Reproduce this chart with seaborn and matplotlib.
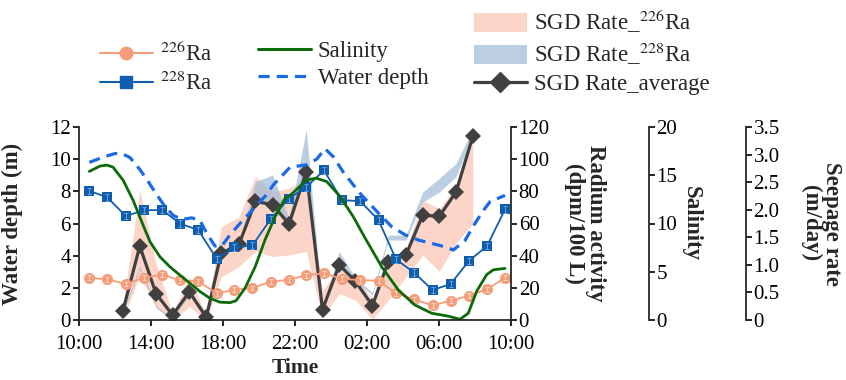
import matplotlib
matplotlib.use("Agg")
import matplotlib.pyplot as plt
from matplotlib.lines import Line2D
from matplotlib.patches import Patch
import seaborn as sns

# ---------------- data ----------------
# radium sampling times (hours after 10:00)
ra_hours = [0.6, 1.6, 2.63, 3.63, 4.65, 5.63, 6.65, 7.67, 8.65, 9.65, 10.67, 11.66,
            12.62, 13.62, 14.62, 15.63, 16.65, 17.62, 18.63, 19.65, 20.65, 21.67, 22.67, 23.67]
ra226 = [26.3, 25.3, 22.4, 26.3, 28.1, 24.8, 24.0, 16.6, 18.8, 19.9, 23.9, 25.0,
         27.8, 29.0, 25.6, 24.8, 24.4, 16.6, 12.8, 9.1, 12.0, 15.1, 19.1, 26.3]
ra228 = [80.3, 76.2, 64.6, 68.3, 68.3, 60.0, 55.9, 38.0, 45.1, 46.4, 62.8, 75.5,
         82.5, 93.0, 74.5, 73.9, 62.1, 37.7, 29.4, 18.6, 22.4, 36.8, 46.0, 68.8]
ra226_err = [1.5, 1.5, 1.5, 1.5, 1.5, 1.5, 1.5, 1.5, 1.5, 1.5, 1.5, 1.5,
             1.5, 1.5, 1.5, 1.5, 1.5, 1.5, 1.5, 1.5, 1.5, 1.5, 1.5, 1.5]
ra228_err = [2.0, 2.0, 2.0, 2.0, 2.0, 2.0, 2.0, 2.0, 2.0, 2.0, 2.0, 2.0,
             2.0, 2.0, 2.0, 2.0, 2.0, 2.0, 2.0, 2.0, 2.0, 2.0, 2.0, 2.0]

# salinity record
sal_hours = [0.6, 1.19, 1.58, 1.91, 2.47, 3.02, 3.58, 3.97, 4.52, 5.08, 5.63, 6.19,
             6.74, 7.3, 7.85, 8.41, 8.74, 9.24, 9.8, 10.35, 10.91, 11.46, 11.74, 12.66,
             13.18, 13.77, 14.51, 15.25, 15.9, 16.83, 17.75, 18.67, 19.6, 20.52, 21.17,
             21.63, 22.1, 22.65, 23.02, 23.67]
salinity = [15.4, 15.95, 16.05, 15.85, 14.5, 12.45, 9.85, 8.1, 6.55, 5.5, 4.65, 3.8,
            2.95, 2.25, 1.85, 1.8, 2.0, 3.3, 5.5, 8.3, 10.7, 12.6, 12.9, 14.5,
            14.7, 14.35, 12.8, 10.7, 8.5, 5.5, 3.1, 1.55, 0.7, 0.4, 0.07,
            0.7, 3.0, 4.7, 5.2, 5.35]

# water depth record
depth_hours = [0.6, 1.19, 1.58, 2.03, 2.4, 2.86, 3.41, 3.87, 4.34, 4.8, 5.26, 5.73,
               6.28, 6.74, 7.11, 7.57, 7.95, 8.41, 8.96, 9.7, 10.44, 10.81, 11.74, 12.66,
               13.22, 13.68, 14.14, 14.69, 15.25, 15.72, 16.64, 17.38, 18.12, 18.86, 19.6,
               20.34, 20.8, 21.45, 22.0, 22.46, 22.83, 23.67]
depth = [9.8, 10.05, 10.2, 10.35, 10.35, 10.1, 9.35, 8.6, 7.8, 7.05, 6.5, 6.25,
         6.35, 6.2, 5.4, 4.6, 4.6, 5.3, 6.0, 6.9, 7.8, 8.4, 9.5, 9.65,
         10.0, 10.65, 10.15, 9.2, 8.4, 7.75, 6.65, 5.8, 5.3, 4.97, 4.76,
         4.55, 4.35, 4.95, 6.0, 6.8, 7.35, 7.75]

# SGD seepage rates (m/day)
sgd_hours = [2.46, 3.4, 4.3, 5.22, 6.15, 7.09, 7.92, 8.9, 9.82, 10.77, 11.68,
             12.64, 13.54, 14.47, 15.37, 16.31, 17.19, 18.17, 19.1, 20.02, 20.95, 21.88]
sgd226_low = [0.03, 0.79, 0.24, 0.0, 0.24, 0.0, 0.78, 0.97, 1.24, 1.15, 1.18,
              1.24, 0.06, 0.48, 0.36, 0.01, 0.36, 0.78, 1.18, 0.88, 1.39, 1.75]
sgd226_high = [0.26, 2.35, 1.02, 0.12, 0.78, 0.09, 1.69, 1.87, 2.6, 2.32, 2.39,
               2.57, 0.53, 0.97, 0.78, 0.38, 0.97, 1.27, 2.17, 2.02, 2.42, 3.38]
sgd228_low = [0.12, 0.93, 0.22, 0.0, 0.47, 0.0, 1.17, 1.34, 2.19, 2.11, 1.72,
              2.69, 0.16, 1.03, 0.7, 0.45, 1.45, 1.45, 2.14, 2.32, 2.6, 3.35]
sgd228_high = [0.16, 0.99, 0.26, 0.03, 0.51, 0.03, 1.22, 1.4, 2.51, 2.63, 1.84,
               3.46, 0.2, 1.24, 0.76, 0.5, 1.54, 1.54, 2.32, 2.57, 2.84, 3.47]
sgd_avg = [0.16, 1.34, 0.48, 0.09, 0.51, 0.05, 1.21, 1.37, 2.15, 2.09, 1.74,
           2.69, 0.19, 1.0, 0.7, 0.26, 1.06, 1.18, 1.9, 1.88, 2.32, 3.33]

time_ticks = [0, 4, 8, 12, 16, 20, 24]
time_labels = ["10:00", "14:00", "18:00", "22:00", "02:00", "06:00", "10:00"]

# ---------------- style ----------------
sns.set_theme(style="ticks")
plt.rcParams["font.family"] = ["Liberation Serif", "DejaVu Serif"]
plt.rcParams["mathtext.fontset"] = "stix"
plt.rcParams["axes.linewidth"] = 1.3

FS = 15
FS_LAB = 16.5
FS_LEG = 16.5
C226 = "#F59C78"
C228 = "#0F5DAE"
CDEPTH = "#1A6AE6"
CSAL = "#0B6B0B"
CAVG = "#404040"
CPINK = "#FBB9A4"
CBLUE = "#9FBAD6"

fig = plt.figure(figsize=(8.46, 3.8), dpi=100)
ax = fig.add_axes([78.5 / 846, 60 / 380, 432.5 / 846, 193 / 380])
ax_ra = ax.twinx()
ax_sal = ax.twinx()
ax_sgd = ax.twinx()

ax_sal.spines["right"].set_position(("axes", 1.319))
ax_sgd.spines["right"].set_position(("axes", 1.543))

# stacking: seepage bands lowest, water depth on top
ax_sgd.set_zorder(1)
ax_ra.set_zorder(2)
ax_sal.set_zorder(3)
ax.set_zorder(4)
ax.patch.set_visible(False)
for a in (ax_ra, ax_sal, ax_sgd):
    a.patch.set_visible(False)

# SGD bands and average
ax_sgd.fill_between(sgd_hours, sgd226_low, sgd226_high, color=CPINK, alpha=0.6, linewidth=0)
ax_sgd.fill_between(sgd_hours, sgd228_low, sgd228_high, color=CBLUE, alpha=0.7, linewidth=0)
sns.lineplot(x=sgd_hours, y=sgd_avg, ax=ax_sgd, color=CAVG, linewidth=2.3,
             marker="D", markersize=8, markeredgecolor=CAVG, markeredgewidth=0,
             legend=False)

# radium activities
sns.lineplot(x=ra_hours, y=ra226, ax=ax_ra, color=C226, linewidth=1.3,
             marker="o", markersize=8, markeredgecolor=C226, markeredgewidth=0,
             legend=False)
ax_ra.errorbar(ra_hours, ra226, yerr=ra226_err, fmt="none", ecolor="#FFD9C8",
               elinewidth=0.7, capsize=1.5, capthick=0.7, zorder=5)
sns.lineplot(x=ra_hours, y=ra228, ax=ax_ra, color=C228, linewidth=1.3,
             marker="s", markersize=7, markeredgecolor=C228, markeredgewidth=0,
             legend=False)
ax_ra.errorbar(ra_hours, ra228, yerr=ra228_err, fmt="none", ecolor="#6FA0D8",
               elinewidth=0.7, capsize=1.5, capthick=0.7, zorder=5)

# salinity and water depth
sns.lineplot(x=sal_hours, y=salinity, ax=ax_sal, color=CSAL, linewidth=2.0,
             legend=False)
sns.lineplot(x=depth_hours, y=depth, ax=ax, color=CDEPTH, linewidth=2.3,
             legend=False)
ax.lines[-1].set_dashes([3.5, 2.2])

# ---------------- axes ----------------
ax.set_xlim(0, 24)
ax.set_xticks(time_ticks)
ax.set_xticklabels(time_labels)
ax.set_ylim(0, 12)
ax.set_yticks([0, 2, 4, 6, 8, 10, 12])
ax_ra.set_ylim(0, 120)
ax_ra.set_yticks([0, 20, 40, 60, 80, 100, 120])
ax_sal.set_ylim(0, 20)
ax_sal.set_yticks([0, 5, 10, 15, 20])
ax_sgd.set_ylim(0, 3.5)
ax_sgd.set_yticks([0, 0.5, 1.0, 1.5, 2.0, 2.5, 3.0, 3.5])
ax_sgd.set_yticklabels(["0", "0.5", "1.0", "1.5", "2.0", "2.5", "3.0", "3.5"])

for s in ("top", "right"):
    ax.spines[s].set_visible(False)
for a in (ax_ra, ax_sal, ax_sgd):
    for s in ("top", "left", "bottom"):
        a.spines[s].set_visible(False)
    a.spines["right"].set_linewidth(1.3)

for a in (ax, ax_ra, ax_sal, ax_sgd):
    a.tick_params(axis="both", direction="out", length=4, width=1.2,
                  labelsize=FS, pad=1.5, colors="black")
ax.tick_params(axis="x", pad=6.5)

ax.set_xlabel("Time", fontsize=15.5, fontweight="bold", labelpad=3)
ax.set_ylabel("Water depth (m)", fontsize=FS_LAB, fontweight="bold")
ax.yaxis.set_label_coords(-0.128, 0.5)

ax_ra.set_ylabel("Radium activity\n(dpm/100 L)", fontsize=FS_LAB, fontweight="bold",
                 rotation=270, va="center", ha="center", linespacing=1.0)
ax_ra.yaxis.set_label_coords(1.172, 0.5)
ax_sal.set_ylabel("Salinity", fontsize=FS_LAB, fontweight="bold",
                  rotation=270, va="center", ha="center")
ax_sal.yaxis.set_label_coords(1.418, 0.5)
ax_sgd.set_ylabel("Seepage rate\n(m/day)", fontsize=FS_LAB, fontweight="bold",
                  rotation=270, va="center", ha="center", linespacing=1.0)
ax_sgd.yaxis.set_label_coords(1.717, 0.5)

# ---------------- legends ----------------
leg_kw = dict(frameon=False, fontsize=FS_LEG, borderpad=0, borderaxespad=0,
              handlelength=2.3, handletextpad=0.3, labelspacing=0.25,
              loc="upper left")

h1 = [Line2D([], [], color=C226, lw=1.5, marker="o", markersize=9, mec=C226),
      Line2D([], [], color=C228, lw=1.5, marker="s", markersize=8, mec=C228)]
l1 = ["$^{226}$Ra", "$^{228}$Ra"]
h2 = [Line2D([], [], color=CSAL, lw=2.2),
      Line2D([], [], color=CDEPTH, lw=2.3, dashes=[3.5, 2.2])]
l2 = ["Salinity", "Water depth"]
h3 = [Patch(facecolor=CPINK, alpha=0.6, lw=0),
      Patch(facecolor=CBLUE, alpha=0.7, lw=0),
      Line2D([], [], color=CAVG, lw=2.3, marker="D", markersize=10, mec=CAVG)]
l3 = ["SGD Rate_$^{226}$Ra", "SGD Rate_$^{228}$Ra", "SGD Rate_average"]

fig.legend(h1, l1, bbox_to_anchor=(100 / 846, 1 - 41 / 380), **leg_kw)
fig.legend(h2, l2, bbox_to_anchor=(258 / 846, 1 - 41 / 380), **leg_kw)
fig.legend(h3, l3, bbox_to_anchor=(474 / 846, 1 - 8 / 380), handleheight=0.9,
           **leg_kw)

fig.savefig("out.png", dpi=100, facecolor="white")
